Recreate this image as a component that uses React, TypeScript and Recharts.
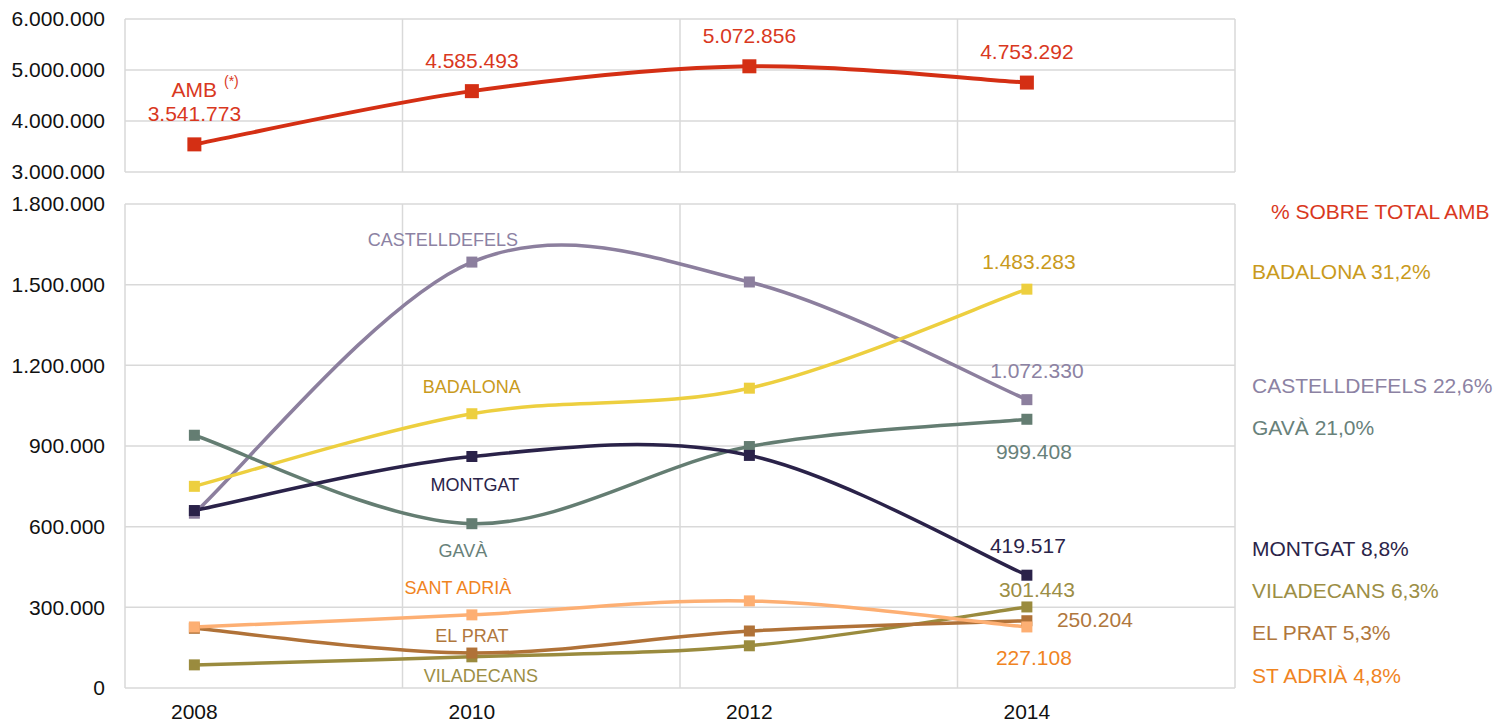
import React from 'react';
import { LineChart, Line, XAxis, YAxis, CartesianGrid } from 'recharts';

const FONT = '"Liberation Sans", Arial, Helvetica, sans-serif';

// ---------- data ----------
const years = [2008, 2010, 2012, 2014];
const yearTicks = [2008, 2010, 2012, 2014];
const yearDomain = [2007.5, 2015.5];
const yearBoundaries = [2007.5, 2009.5, 2011.5, 2013.5, 2015.5];

const ambValues = [3541773, 4585493, 5072856, 4753292];

const badalona = [750000, 1020000, 1115000, 1483283];
const castelldefels = [650000, 1584000, 1510000, 1072330];
const gava = [940000, 611000, 898000, 999408];
const montgat = [660000, 861000, 865000, 419517];
const viladecans = [86000, 116000, 157000, 301443];
const elPrat = [222000, 130000, 212000, 250204];
const santAdria = [227000, 272000, 324000, 227108];

const topTicks = [3000000, 4000000, 5000000, 6000000];
const bottomTicks = [0, 300000, 600000, 900000, 1200000, 1500000, 1800000];

const shareTitle = '% SOBRE TOTAL AMB';
const shareNames = ['BADALONA', 'CASTELLDEFELS', 'GAVÀ', 'MONTGAT', 'VILADECANS', 'EL PRAT', 'ST ADRIÀ'];
const sharePct = ['31,2%', '22,6%', '21,0%', '8,8%', '6,3%', '5,3%', '4,8%'];

// ---------- tables built from data ----------
const topData = years.map((year, i) => ({ year, amb: ambValues[i] }));
const bottomData = years.map((year, i) => ({
  year,
  badalona: badalona[i],
  castelldefels: castelldefels[i],
  gava: gava[i],
  montgat: montgat[i],
  viladecans: viladecans[i],
  elPrat: elPrat[i],
  santAdria: santAdria[i],
}));

// ---------- styles ----------
const shareStyle = [
  { color: '#C99A1C', y: 271 },
  { color: '#8C82A3', y: 385 },
  { color: '#68817A', y: 427 },
  { color: '#2B2449', y: 548 },
  { color: '#9C8E45', y: 590 },
  { color: '#B0773D', y: 632 },
  { color: '#F0841F', y: 675 },
];

type Spec = {
  key: string;
  name: string;
  line: string;
  text: string;
  nameDx: number;
  nameDy: number;
  valDx: number;
  valDy: number;
};

const bottomSpecs: Spec[] = [
  { key: 'castelldefels', name: 'CASTELLDEFELS', line: '#8C7F9E', text: '#8C82A3', nameDx: -29, nameDy: -23, valDx: 10, valDy: -29 },
  { key: 'badalona', name: 'BADALONA', line: '#EDCF3F', text: '#C99A1C', nameDx: 0, nameDy: -27, valDx: 2, valDy: -28 },
  { key: 'gava', name: 'GAVÀ', line: '#647D72', text: '#68817A', nameDx: -9, nameDy: 27, valDx: 7, valDy: 32 },
  { key: 'montgat', name: 'MONTGAT', line: '#2A2249', text: '#2B2449', nameDx: 3, nameDy: 28, valDx: 1, valDy: -30 },
  { key: 'viladecans', name: 'VILADECANS', line: '#9A8B3E', text: '#9C8E45', nameDx: 9, nameDy: 19, valDx: 10, valDy: -18 },
  { key: 'elPrat', name: 'EL PRAT', line: '#B07238', text: '#B0773D', nameDx: 0, nameDy: -18, valDx: 68, valDy: -1 },
  { key: 'santAdria', name: 'SANT ADRIÀ', line: '#FDAF73', text: '#F0841F', nameDx: -14, nameDy: -27, valDx: 7, valDy: 31 },
];

const AMB_LINE = '#D42F14';
const AMB_TEXT = '#D9381E';
const GRID = '#D9D9D9';

const fmt = (v: number) => String(Math.round(v)).replace(/\B(?=(\d{3})+(?!\d))/g, '.');

// Excel-like smoothing (Catmull-Rom via cubic Bezier)
const excelSmooth: any = (context: any) => {
  let xs: number[] = [];
  let ys: number[] = [];
  return {
    areaStart() {},
    areaEnd() {},
    lineStart() {
      xs = [];
      ys = [];
    },
    point(x: number, y: number) {
      xs.push(+x);
      ys.push(+y);
    },
    lineEnd() {
      const n = xs.length;
      if (!n) return;
      context.moveTo(xs[0], ys[0]);
      if (n === 1) return;
      for (let i = 0; i < n - 1; i++) {
        const i0 = Math.max(i - 1, 0);
        const i3 = Math.min(i + 2, n - 1);
        const c1x = xs[i] + (xs[i + 1] - xs[i0]) / 6;
        const c1y = ys[i] + (ys[i + 1] - ys[i0]) / 6;
        const c2x = xs[i + 1] - (xs[i3] - xs[i]) / 6;
        const c2y = ys[i + 1] - (ys[i3] - ys[i]) / 6;
        context.bezierCurveTo(c1x, c1y, c2x, c2y, xs[i + 1], ys[i + 1]);
      }
    },
  };
};

// vertical grid at the band boundaries between the years, mapped through the axis scale
const gridGen = (args: any) => {
  const xAxis = args && args.xAxis;
  const sc = xAxis && xAxis.scale;
  let f: ((v: number) => number) | null = null;
  if (typeof sc === 'function') f = (v) => sc(v);
  else if (sc && typeof sc.map === 'function') f = (v) => sc.map(v);
  let pts: number[] = [];
  if (f) pts = yearBoundaries.map((v) => f!(v)).filter((p) => Number.isFinite(p));
  if (pts.length < yearBoundaries.length && args && args.offset) {
    const { left, width } = args.offset;
    pts = yearBoundaries.map((v) => left + ((v - yearDomain[0]) / (yearDomain[1] - yearDomain[0])) * width);
  }
  return pts;
};

const tickStyle = { fontSize: 21, fill: '#111', fontFamily: FONT };

const ambDot = (p: any) => {
  const { cx, cy, index } = p;
  const value = p.payload ? p.payload.amb : p.value;
  if (cx == null || cy == null) return <g key={`amb-${index}`} />;
  const s = 14;
  return (
    <g key={`amb-${index}`}>
      <rect x={cx - s / 2} y={cy - s / 2} width={s} height={s} fill={AMB_LINE} />
      <text x={cx} y={cy - 31} dy="0.36em" textAnchor="middle" fontSize={21} fontFamily={FONT} fill={AMB_TEXT}>
        {fmt(value)}
      </text>
      {index === 0 && (
        <>
          <text x={cx} y={cy - 55} dy="0.36em" textAnchor="middle" fontSize={21} fontFamily={FONT} fill={AMB_TEXT}>
            AMB
          </text>
          <text x={cx + 37} y={cy - 63} dy="0.36em" textAnchor="middle" fontSize={14} fontFamily={FONT} fill={AMB_TEXT}>
            (*)
          </text>
        </>
      )}
    </g>
  );
};

const makeDot = (s: Spec) => (p: any) => {
  const { cx, cy, index } = p;
  const value = p.payload ? p.payload[s.key] : p.value;
  if (cx == null || cy == null) return <g key={`${s.key}-${index}`} />;
  const size = 11;
  return (
    <g key={`${s.key}-${index}`}>
      <rect x={cx - size / 2} y={cy - size / 2} width={size} height={size} fill={s.line} />
      {index === 1 && (
        <text x={cx + s.nameDx} y={cy + s.nameDy} dy="0.36em" textAnchor="middle" fontSize={18} fontFamily={FONT} fill={s.text}>
          {s.name}
        </text>
      )}
      {index === 3 && (
        <text x={cx + s.valDx} y={cy + s.valDy} dy="0.36em" textAnchor="middle" fontSize={21} fontFamily={FONT} fill={s.text}>
          {fmt(value)}
        </text>
      )}
    </g>
  );
};

export default function App() {
  return (
    <div style={{ position: 'fixed', left: 0, top: 0, width: 1512, height: 723, background: '#fff', fontFamily: FONT }}>
      <div style={{ position: 'absolute', left: 0, top: 0 }}>
        <LineChart width={1250} height={190} data={topData} margin={{ top: 19, right: 15, bottom: 18, left: 0 }}>
          <CartesianGrid stroke={GRID} strokeWidth={1.5} verticalCoordinatesGenerator={gridGen} />
          <XAxis type="number" dataKey="year" domain={yearDomain} ticks={yearTicks} hide />
          <YAxis
            type="number"
            domain={[3000000, 6000000]}
            ticks={topTicks}
            interval={0}
            width={125}
            axisLine={false}
            tickLine={false}
            tickSize={0}
            tickMargin={20}
            tick={tickStyle}
            tickFormatter={fmt}
          />
          <Line dataKey="amb" type={excelSmooth} stroke={AMB_LINE} strokeWidth={4} dot={ambDot} activeDot={false} isAnimationActive={false} />
        </LineChart>
      </div>
      <div style={{ position: 'absolute', left: 0, top: 180 }}>
        <LineChart width={1250} height={543} data={bottomData} margin={{ top: 24, right: 15, bottom: 0, left: 0 }}>
          <CartesianGrid stroke={GRID} strokeWidth={1.5} verticalCoordinatesGenerator={gridGen} />
          <XAxis
            type="number"
            dataKey="year"
            domain={yearDomain}
            ticks={yearTicks}
            interval={0}
            height={35}
            axisLine={false}
            tickLine={false}
            tickSize={0}
            tickMargin={16}
            tick={tickStyle}
          />
          <YAxis
            type="number"
            domain={[0, 1800000]}
            ticks={bottomTicks}
            interval={0}
            width={125}
            axisLine={false}
            tickLine={false}
            tickSize={0}
            tickMargin={20}
            tick={tickStyle}
            tickFormatter={fmt}
          />
          {bottomSpecs.map((s) => (
            <Line
              key={s.key}
              dataKey={s.key}
              type={excelSmooth}
              stroke={s.line}
              strokeWidth={3.5}
              dot={makeDot(s)}
              activeDot={false}
              isAnimationActive={false}
            />
          ))}
        </LineChart>
      </div>
      <svg style={{ position: 'absolute', left: 0, top: 0, pointerEvents: 'none' }} width={1512} height={723}>
        <text x={1271} y={211.5} dy="0.36em" fontSize={21} fontFamily={FONT} fill={AMB_TEXT}>
          {shareTitle}
        </text>
        {shareNames.map((n, i) => (
          <text key={n} x={1252} y={shareStyle[i].y} dy="0.36em" fontSize={21} fontFamily={FONT} fill={shareStyle[i].color}>
            {`${n} ${sharePct[i]}`}
          </text>
        ))}
      </svg>
    </div>
  );
}
